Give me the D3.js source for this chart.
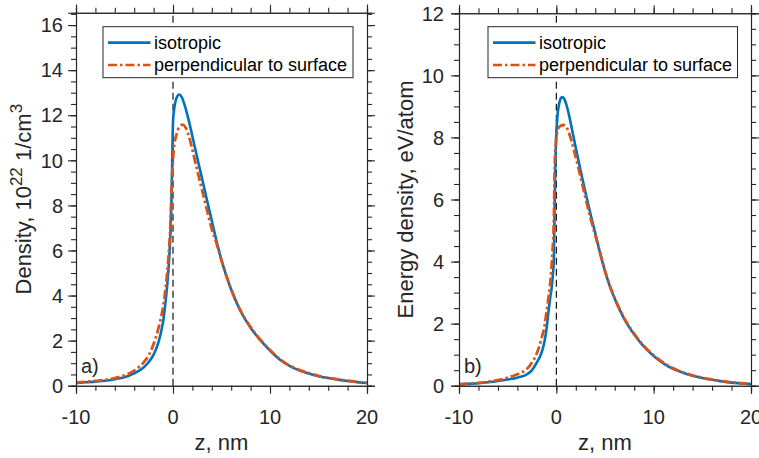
<!DOCTYPE html>
<html>
<head>
<meta charset="utf-8">
<script src="https://cdn.jsdelivr.net/npm/d3@7"></script>
<style>
  html, body { margin: 0; padding: 0; background: #fff; }
  svg { display: block; font-family: "Liberation Sans", Arial, sans-serif; }
</style>
</head>
<body>
<svg id="chart" width="759" height="458"></svg>
<script>
// ---------------- DATA ----------------
const seriesNames = ["isotropic", "perpendicular to surface"];

// Panel a) density, 10^22 1/cm^3
const densIsoZ = [-10,-9,-8,-7,-6,-5,-4,-3,-2.5,-2,-1.5,-1.2,-1,-0.8,-0.6,-0.4,-0.25,-0.15,-0.08,-0.03,0,0.1,0.25,0.45,0.65,0.9,1.2,1.5,1.8,2.1,2.4,2.7,3,3.4,3.9,4.5,5,5.5,6,6.5,7,8,9,10,11,12,13,14,15,16,17,18,19,20];
const densIsoV = [0.12,0.15,0.18,0.22,0.29,0.38,0.55,0.82,1.05,1.38,1.92,2.45,2.9,3.6,4.45,5.6,6.9,8.4,10.0,11.2,11.7,12.2,12.6,12.85,12.92,12.8,12.45,11.98,11.45,10.87,10.3,9.74,9.18,8.43,7.5,6.4,5.57,4.87,4.26,3.74,3.28,2.57,2.02,1.56,1.16,0.88,0.68,0.54,0.42,0.34,0.27,0.21,0.16,0.12];

const densPerpZ = [-10,-9,-8,-7,-6,-5,-4,-3,-2.5,-2,-1.5,-1.2,-1,-0.8,-0.6,-0.4,-0.25,-0.17,-0.07,0.03,0.15,0.3,0.5,0.75,1,1.3,1.6,1.9,2.2,2.5,2.9,3.2,3.6,4,4.5,5,5.5,6,6.5,7,8,9,10,11,12,13,14,15,16,17,18,19,20];
const densPerpV = [0.14,0.17,0.21,0.26,0.34,0.46,0.67,1.05,1.35,1.85,2.55,3.1,3.55,4.2,5.0,6.1,7.3,8.4,9.5,10.25,10.75,11.05,11.35,11.52,11.58,11.45,11.13,10.65,10.1,9.56,8.85,8.33,7.62,6.95,6.3,5.56,4.88,4.28,3.76,3.3,2.6,2.04,1.58,1.18,0.9,0.7,0.56,0.44,0.35,0.28,0.22,0.17,0.13];

// Panel b) energy density, eV/atom
const enIsoZ = [-10,-9,-8,-7,-6,-5,-4,-3,-2.5,-2,-1.5,-1.2,-1,-0.8,-0.6,-0.5,-0.35,-0.25,-0.17,-0.07,0.05,0.15,0.3,0.5,0.65,0.85,1.1,1.4,1.7,2,2.3,2.6,2.9,3.2,3.6,3.95,4.5,5,5.5,6,6.5,7,7.5,8,9,10,11,12,13,14,15,16,17,18,19,20];
const enIsoV = [0.04,0.06,0.08,0.11,0.15,0.2,0.26,0.37,0.5,0.75,1.08,1.45,1.85,2.4,2.9,3.1,3.6,4.1,5.9,7.5,8.4,8.8,9.1,9.28,9.3,9.22,8.98,8.58,8.12,7.66,7.22,6.78,6.35,5.95,5.42,4.98,4.27,3.69,3.2,2.8,2.45,2.14,1.88,1.65,1.26,0.96,0.72,0.54,0.42,0.32,0.25,0.19,0.14,0.1,0.075,0.05];

const enPerpZ = [-10,-9,-8,-7,-6,-5,-4,-3,-2.5,-2,-1.5,-1.2,-1,-0.8,-0.6,-0.4,-0.25,-0.17,-0.05,0.05,0.15,0.4,0.8,1.1,1.4,1.7,2,2.3,2.6,2.9,3.25,3.6,4,4.5,5,5.5,6,6.5,7,7.5,8,9,10,11,12,13,14,15,16,17,18,19,20];
const enPerpV = [0.05,0.07,0.09,0.13,0.18,0.26,0.37,0.55,0.75,1.05,1.55,1.95,2.4,2.85,3.4,4.3,5.4,7.0,7.8,8.12,8.25,8.37,8.4,8.3,8.05,7.72,7.36,6.98,6.58,6.18,5.72,5.3,4.84,4.27,3.7,3.22,2.82,2.47,2.16,1.9,1.67,1.28,0.98,0.74,0.56,0.43,0.33,0.26,0.2,0.15,0.11,0.08,0.055];

const xTickValues = [-10, 0, 10, 20];
const densTickValues = [0, 2, 4, 6, 8, 10, 12, 14, 16];
const enTickValues = [0, 2, 4, 6, 8, 10, 12];
const panelLabels = ["a)", "b)"];

// ---------------- DRAW ----------------
const svg = d3.select("#chart");
const blue = "#0072BD", orange = "#D95319", axisCol = "#262626";
const dashDot = "9,3,2.5,3";

function zip(zs, vs) { return zs.map((z, i) => ({ z: z, v: vs[i] })); }

const panels = [
  { x0: 76, x1: 367, y0: 12.7, y1: 385.7, ymax: 16.55, ticks: densTickValues,
    minorStep: 0.5, iso: zip(densIsoZ, densIsoV), perp: zip(densPerpZ, densPerpV),
    label: panelLabels[0], legX: 103, legW: 250, tickLabelX: 63, titleX: 31,
    title: [["Density, 10", 0], ["22", 1], [" 1/cm", 0], ["3", 1]] },
  { x0: 459, x1: 751, y0: 13.3, y1: 385.7, ymax: 12, ticks: enTickValues,
    minorStep: 0.5, iso: zip(enIsoZ, enIsoV), perp: zip(enPerpZ, enPerpV),
    label: panelLabels[1], legX: 488, legW: 249.5, tickLabelX: 444, titleX: 413,
    title: [["Energy density, eV/atom", 0]] }
];

panels.forEach(p => {
  const x = d3.scaleLinear().domain([-10, 20]).range([p.x0, p.x1]);
  const y = d3.scaleLinear().domain([0, p.ymax]).range([p.y1, p.y0]);
  const g = svg.append("g");

  // dashed line at z = 0
  g.append("line")
    .attr("x1", x(0)).attr("x2", x(0)).attr("y1", y(0)).attr("y2", y(p.ymax))
    .attr("stroke", "#000").attr("stroke-width", 1.1).attr("stroke-dasharray", "7,4");

  const line = d3.line().x(d => x(d.z)).y(d => y(d.v)).curve(d3.curveMonotoneX);
  g.append("path").datum(p.iso).attr("d", line)
    .attr("fill", "none").attr("stroke", blue).attr("stroke-width", 2.6);
  g.append("path").datum(p.perp).attr("d", line)
    .attr("fill", "none").attr("stroke", orange).attr("stroke-width", 2.8)
    .attr("stroke-dasharray", dashDot);

  // axes: box with outward ticks
  const minorX = d3.range(-10, 20.001, 2);
  const minorY = d3.range(0, p.ymax + 1e-6, p.minorStep);
  const axB = d3.axisBottom(x).tickValues(minorX).tickSize(5).tickFormat("");
  const axT = d3.axisTop(x).tickValues(minorX).tickSize(5).tickFormat("");
  const axL = d3.axisLeft(y).tickValues(minorY).tickSize(5).tickFormat("");
  const axR = d3.axisRight(y).tickValues(minorY).tickSize(5).tickFormat("");
  const majB = d3.axisBottom(x).tickValues(xTickValues).tickSize(8).tickFormat("");
  const majT = d3.axisTop(x).tickValues(xTickValues).tickSize(8).tickFormat("");
  const majL = d3.axisLeft(y).tickValues(p.ticks).tickSize(8).tickFormat("");
  const majR = d3.axisRight(y).tickValues(p.ticks).tickSize(8).tickFormat("");
  [[axB, "b"], [axT, "t"], [axL, "l"], [axR, "r"], [majB, "b"], [majT, "t"], [majL, "l"], [majR, "r"]].forEach(([ax, side]) => {
    const tr = side === "b" ? `translate(0,${p.y1})` : side === "t" ? `translate(0,${p.y0})`
      : side === "l" ? `translate(${p.x0},0)` : `translate(${p.x1},0)`;
    const a = g.append("g").attr("transform", tr).call(ax);
    a.select(".domain").attr("stroke", axisCol).attr("stroke-width", 1.1);
    a.selectAll(".tick line").attr("stroke", axisCol).attr("stroke-width", 1.1);
  });

  // tick labels
  g.selectAll(".xl").data(xTickValues).enter().append("text")
    .attr("x", d => x(d)).attr("y", 424).attr("text-anchor", "middle")
    .attr("font-size", 20).attr("fill", axisCol).text(d => d);
  g.selectAll(".yl").data(p.ticks).enter().append("text")
    .attr("x", p.tickLabelX).attr("y", d => y(d)).attr("dy", "0.36em").attr("text-anchor", "end")
    .attr("font-size", 20).attr("fill", axisCol).text(d => d);

  // axis titles
  g.append("text").attr("x", (p.x0 + p.x1) / 2).attr("y", 450).attr("text-anchor", "middle")
    .attr("font-size", 22).attr("fill", axisCol).text("z, nm");
  const yt = g.append("text")
    .attr("transform", `translate(${p.titleX},${(p.y0 + p.y1) / 2}) rotate(-90)`)
    .attr("text-anchor", "middle").attr("font-size", 22).attr("fill", axisCol);
  p.title.forEach(([s, sup]) => {
    const ts = yt.append("tspan").text(s);
    if (sup) ts.attr("font-size", 17).attr("dy", -9);
    else if (yt.selectAll("tspan").size() > 1) ts.attr("dy", 9);
  });

  // panel label
  g.append("text").attr("x", p.x0 + 5).attr("y", 373).attr("font-size", 20)
    .attr("fill", axisCol).text(p.label);

  // legend
  const lg = g.append("g");
  lg.append("rect").attr("x", p.legX).attr("y", 26.7).attr("width", p.legW).attr("height", 51)
    .attr("fill", "#fff").attr("stroke", axisCol).attr("stroke-width", 1);
  [blue, orange].forEach((c, i) => {
    const ly = 42.7 + i * 22.3;
    lg.append("line").attr("x1", p.legX + 5).attr("x2", p.legX + 47.5).attr("y1", ly).attr("y2", ly)
      .attr("stroke", c).attr("stroke-width", 2.7).attr("stroke-dasharray", i ? dashDot : null);
    lg.append("text").attr("x", p.legX + 51).attr("y", ly).attr("dy", "0.35em")
      .attr("font-size", 18).attr("fill", "#000").text(seriesNames[i]);
  });
});
</script>
</body>
</html>
